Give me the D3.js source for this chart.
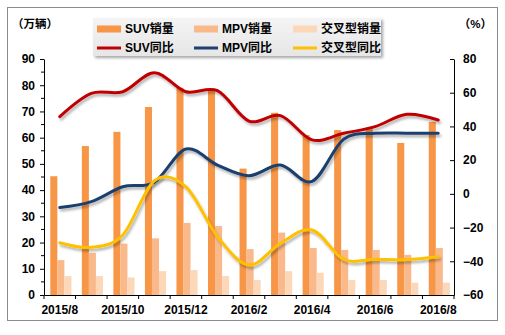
<!DOCTYPE html>
<html>
<head>
<meta charset="utf-8">
<script src="https://cdn.jsdelivr.net/npm/d3@7/dist/d3.min.js"></script>
<style>
  html, body { margin: 0; padding: 0; background: #ffffff; }
  svg { display: block; }
  text { font-family: Arial, "Liberation Sans", "Noto Sans CJK SC", sans-serif; font-weight: bold; }
</style>
</head>
<body>
<svg id="chart" width="505" height="335"></svg>
<script>
// Monthly sales (10k units) and year-on-year growth (%) for SUV, MPV and crossover vehicles
const categories = ['2015/8', '2015/9', '2015/10', '2015/11', '2015/12', '2016/1', '2016/2',
                    '2016/3', '2016/4', '2016/5', '2016/6', '2016/7', '2016/8'];
const suvSales   = [45.3, 56.8, 62.2, 71.7, 79.0, 77.8, 48.2, 69.5, 61.0, 62.9, 64.0, 58.0, 66.0];
const mpvSales   = [13.3, 16.1, 19.6, 21.6, 27.5, 26.3, 17.5, 23.8, 17.9, 17.2, 17.2, 15.3, 17.9];
const crossSales = [7.2, 7.2, 6.7, 9.1, 9.5, 7.2, 5.7, 9.1, 8.5, 5.7, 5.7, 4.7, 4.7];
const suvYoY     = [45.8, 59.6, 60.6, 71.9, 60.6, 61.2, 43.2, 46.4, 32.0, 35.9, 39.9, 47.2, 43.8];
const mpvYoY     = [-8.1, -4.6, 4.2, 6.9, 26.6, 17.1, 10.8, 17.1, 7.4, 32.4, 35.9, 36.0, 35.9];
const crossYoY   = [-29.0, -31.7, -24.4, 7.8, 4.2, -25.4, -42.2, -29.3, -21.4, -38.8, -38.8, -39.0, -37.3];
const leftTicks  = [0, 10, 20, 30, 40, 50, 60, 70, 80, 90];
const rightTicks = [-60, -40, -20, 0, 20, 40, 60, 80];
const xLabels    = ['2015/8', '2015/10', '2015/12', '2016/2', '2016/4', '2016/6', '2016/8'];

const barSeries = [
  { name: 'SUV销量', values: suvSales, color: '#F79646' },
  { name: 'MPV销量', values: mpvSales, color: '#FAB98A' },
  { name: '交叉型销量', values: crossSales, color: '#FCD8B9' }
];
const lineSeries = [
  { name: 'SUV同比', values: suvYoY, color: '#C00000' },
  { name: 'MPV同比', values: mpvYoY, color: '#1F3F6E' },
  { name: '交叉型同比', values: crossYoY, color: '#FFC000' }
];

const svg = d3.select('#chart');
const plot = { left: 44, right: 454, top: 59, bottom: 295 };

// Shadows used by the lines and the legend box
const defs = svg.append('defs');
defs.append('filter').attr('id', 'lineShadow')
  .attr('x', '-10%').attr('y', '-30%').attr('width', '120%').attr('height', '160%')
  .append('feDropShadow')
  .attr('dx', 1.5).attr('dy', 2.5).attr('stdDeviation', 1.3)
  .attr('flood-color', '#000').attr('flood-opacity', 0.3);
defs.append('filter').attr('id', 'boxShadow')
  .attr('x', '-5%').attr('y', '-20%').attr('width', '115%').attr('height', '150%')
  .append('feDropShadow')
  .attr('dx', 2).attr('dy', 2).attr('stdDeviation', 1.5)
  .attr('flood-color', '#000').attr('flood-opacity', 0.35);
const legendGrad = defs.append('linearGradient').attr('id', 'legendFill')
  .attr('x1', 0).attr('y1', 0).attr('x2', 0).attr('y2', 1);
legendGrad.append('stop').attr('offset', '0%').attr('stop-color', '#f4f4f4');
legendGrad.append('stop').attr('offset', '100%').attr('stop-color', '#e6e6e6');

// Outer frame
svg.append('rect')
  .attr('x', 7.5).attr('y', 7.5).attr('width', 490).attr('height', 313)
  .attr('fill', '#ffffff').attr('stroke', '#8c8c8c').attr('stroke-width', 1);

// Scales
const x = d3.scaleBand().domain(categories).range([plot.left, plot.right]).padding(0);
const bw = x.bandwidth();
const xSub = d3.scaleBand().domain(d3.range(barSeries.length)).range([bw * 0.2, bw * 0.87]).padding(0);
const yL = d3.scaleLinear().domain([0, 90]).range([plot.bottom, plot.top]);
const yR = d3.scaleLinear().domain([-60, 80]).range([plot.bottom, plot.top]);

// Bars
barSeries.forEach((s, si) => {
  svg.append('g').selectAll('rect')
    .data(s.values)
    .join('rect')
    .attr('x', (d, i) => x(categories[i]) + xSub(si))
    .attr('y', d => yL(d))
    .attr('width', xSub.bandwidth())
    .attr('height', d => yL(0) - yL(d))
    .attr('fill', s.color);
});

// Smoothed growth lines on the right axis
const line = d3.line()
  .x((d, i) => x(categories[i]) + bw / 2)
  .y(d => yR(d))
  .curve(d3.curveCardinal.tension(0));
lineSeries.forEach(s => {
  svg.append('path')
    .datum(s.values)
    .attr('d', line)
    .attr('fill', 'none')
    .attr('stroke', s.color)
    .attr('stroke-width', 3)
    .attr('stroke-linecap', 'round')
    .attr('filter', 'url(#lineShadow)');
});

function styleAxis(g) {
  g.attr('font-family', 'Arial, "Liberation Sans", sans-serif')
   .attr('font-size', 12)
   .attr('font-weight', 'bold');
  g.selectAll('text').attr('fill', '#000');
  g.selectAll('line').attr('stroke', '#000');
  g.select('.domain').attr('stroke', '#000');
}

// Left axis with minor ticks
const gL = svg.append('g').attr('transform', `translate(${plot.left},0)`)
  .call(d3.axisLeft(yL).tickValues(leftTicks).tickSizeInner(4).tickSizeOuter(0).tickPadding(5));
styleAxis(gL);
svg.append('g').selectAll('line')
  .data(leftTicks.slice(0, -1).map(v => v + 5))
  .join('line')
  .attr('x1', plot.left - 3).attr('x2', plot.left)
  .attr('y1', d => yL(d)).attr('y2', d => yL(d))
  .attr('stroke', '#000');

// Right axis, ticks pointing into the plot
const gR = svg.append('g').attr('transform', `translate(${plot.right},0)`)
  .call(d3.axisRight(yR).tickValues(rightTicks).tickSizeInner(-4).tickSizeOuter(0).tickPadding(9));
styleAxis(gR);

// Category axis: labels on every other month, ticks between months
const gX = svg.append('g').attr('transform', `translate(0,${plot.bottom})`)
  .call(d3.axisBottom(x).tickValues(xLabels).tickSize(0).tickPadding(10));
styleAxis(gX);
svg.append('g').selectAll('line')
  .data(categories.map(c => x(c)).concat([x.range()[1]]))
  .join('line')
  .attr('x1', d => d).attr('x2', d => d)
  .attr('y1', plot.bottom).attr('y2', plot.bottom + 4)
  .attr('stroke', '#000');

// Unit labels
svg.append('text').attr('x', 12).attr('y', 28)
  .attr('font-size', 11.5).text('（万辆）');
svg.append('text').attr('x', 492).attr('y', 28).attr('text-anchor', 'end')
  .attr('font-size', 11.5).text('（%）');

// Legend
const lg = svg.append('g');
lg.append('rect')
  .attr('x', 93).attr('y', 18).attr('width', 288).attr('height', 38)
  .attr('fill', 'url(#legendFill)').attr('filter', 'url(#boxShadow)');
const colX = [97, 194, 293];
const rowY = [29, 48];
barSeries.forEach((s, i) => {
  lg.append('rect').attr('x', colX[i]).attr('y', rowY[0] - 3.5)
    .attr('width', 24).attr('height', 7).attr('fill', s.color);
  lg.append('text').attr('x', colX[i] + 28).attr('y', rowY[0])
    .attr('dy', '0.36em').attr('font-size', 12).text(s.name);
});
lineSeries.forEach((s, i) => {
  lg.append('line').attr('x1', colX[i]).attr('x2', colX[i] + 24)
    .attr('y1', rowY[1]).attr('y2', rowY[1])
    .attr('stroke', s.color).attr('stroke-width', 3);
  lg.append('text').attr('x', colX[i] + 28).attr('y', rowY[1])
    .attr('dy', '0.36em').attr('font-size', 12).text(s.name);
});
</script>
</body>
</html>
